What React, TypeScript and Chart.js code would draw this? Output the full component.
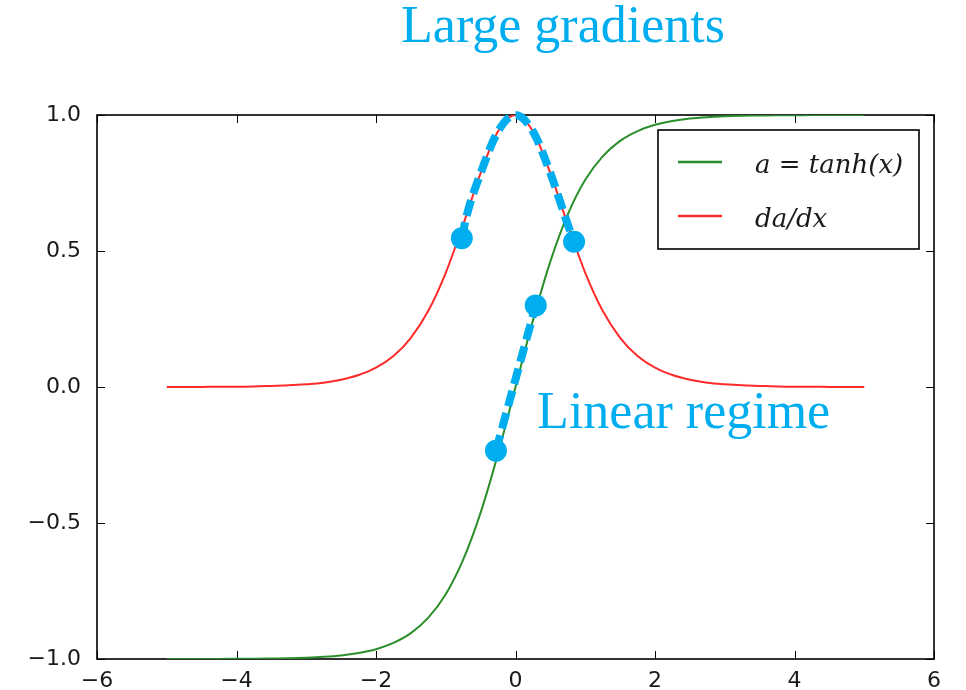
import { useEffect, useRef } from 'react';
import { Chart, registerables } from 'chart.js';

Chart.register(...registerables);

// ---- data ----
const xValues = [
  -5, -4.75, -4.5, -4.25, -4, -3.75, -3.5, -3.25, -3, -2.75, -2.5, -2.25, -2, -1.75, -1.5, -1.25, -1, -0.75, -0.5, -0.25,
  0, 0.25, 0.5, 0.75, 1, 1.25, 1.5, 1.75, 2, 2.25, 2.5, 2.75, 3, 3.25, 3.5, 3.75, 4, 4.25, 4.5, 4.75, 5,
];
const tanhValues = [
  -1.0, -1.0, -1.0, -1.0, -0.999, -0.999, -0.998, -0.997, -0.995, -0.992, -0.987, -0.978, -0.964, -0.941, -0.905, -0.848, -0.762, -0.635, -0.462, -0.245,
  0, 0.245, 0.462, 0.635, 0.762, 0.848, 0.905, 0.941, 0.964, 0.978, 0.987, 0.992, 0.995, 0.997, 0.998, 0.999, 0.999, 1.0, 1.0, 1.0, 1.0,
];
const derivValues = [
  0.0, 0.0, 0.0, 0.001, 0.001, 0.002, 0.004, 0.006, 0.01, 0.016, 0.027, 0.044, 0.071, 0.114, 0.181, 0.28, 0.42, 0.597, 0.786, 0.94,
  1.0, 0.94, 0.786, 0.597, 0.42, 0.28, 0.181, 0.114, 0.071, 0.044, 0.027, 0.016, 0.01, 0.006, 0.004, 0.002, 0.001, 0.001, 0.0, 0.0, 0.0,
];

// highlighted "large gradients" segment on da/dx
const gradX = [-0.77, -0.7, -0.5, -0.25, 0, 0.25, 0.5, 0.75, 0.84];
const gradY = [0.547, 0.63, 0.786, 0.94, 1.0, 0.94, 0.786, 0.597, 0.534];
const gradDotX = [-0.77, 0.84];
const gradDotY = [0.547, 0.534];

// highlighted "linear regime" segment on tanh
const linX = [-0.28, 0.29];
const linY = [-0.234, 0.3];

const seriesLabels = ['a = tanh(x)', 'da/dx'];
const titleText = 'Large gradients';
const annotationText = 'Linear regime';
const annotationPos = [0.31, -0.15];

const xTicks = [-6, -4, -2, 0, 2, 4, 6];
const yTicks = [-1.0, -0.5, 0.0, 0.5, 1.0];

const BLUE = '#00AEEF';
const GREEN = '#2a8f2a';
const RED = '#ff2a2a';

const zip = (xs: number[], ys: number[]) => xs.map((x, i) => ({ x, y: ys[i] }));

const framePlugin = {
  id: 'frame',
  beforeDatasetsDraw(chart: any) {
    const { ctx, chartArea } = chart;
    const { left, right, top, bottom } = chartArea;
    const xs = chart.scales.x;
    const ys = chart.scales.y;
    ctx.save();
    ctx.strokeStyle = '#000';
    ctx.lineWidth = 1;
    const tl = 8;
    ctx.beginPath();
    xTicks.forEach((v) => {
      const px = Math.round(xs.getPixelForValue(v)) + 0.5;
      ctx.moveTo(px, bottom);
      ctx.lineTo(px, bottom - tl);
      ctx.moveTo(px, top);
      ctx.lineTo(px, top + tl);
    });
    yTicks.forEach((v) => {
      const py = Math.round(ys.getPixelForValue(v)) + 0.5;
      ctx.moveTo(left, py);
      ctx.lineTo(left + tl, py);
      ctx.moveTo(right, py);
      ctx.lineTo(right - tl, py);
    });
    ctx.stroke();
    ctx.lineWidth = 1.6;
    ctx.strokeRect(left, top, right - left, bottom - top);
    ctx.restore();
  },
};

const overlayPlugin = {
  id: 'overlay',
  afterDraw(chart: any) {
    const { ctx, chartArea } = chart;
    const { right, top } = chartArea;
    const xs = chart.scales.x;
    const ys = chart.scales.y;
    ctx.save();

    // legend
    const bx = right - 276;
    const by = top + 15;
    const bw = 261;
    const bh = 119;
    ctx.fillStyle = '#fff';
    ctx.fillRect(bx, by, bw, bh);
    ctx.strokeStyle = '#000';
    ctx.lineWidth = 1.6;
    ctx.strokeRect(bx, by, bw, bh);
    const colors = [GREEN, RED];
    seriesLabels.forEach((lab, i) => {
      const ly = by + 32 + i * 54;
      ctx.strokeStyle = colors[i];
      ctx.lineWidth = 2.5;
      ctx.beginPath();
      ctx.moveTo(bx + 20, ly);
      ctx.lineTo(bx + 64, ly);
      ctx.stroke();
      ctx.fillStyle = '#1a1a1a';
      ctx.font = 'italic 26px "DejaVu Serif"';
      ctx.textAlign = 'left';
      ctx.textBaseline = 'alphabetic';
      ctx.fillText(lab, bx + 97, ly + 11);
    });

    // title
    ctx.fillStyle = BLUE;
    ctx.font = '52px "Liberation Serif"';
    ctx.textAlign = 'center';
    ctx.textBaseline = 'alphabetic';
    ctx.fillText(titleText, 563, 42);

    // annotation
    ctx.textAlign = 'left';
    ctx.fillText(annotationText, xs.getPixelForValue(annotationPos[0]), ys.getPixelForValue(annotationPos[1]));
    ctx.restore();
  },
};

export default function App() {
  const ref = useRef<HTMLCanvasElement>(null);
  useEffect(() => {
    document.body.style.margin = '0';
    const canvas = ref.current;
    if (!canvas) return;
    const dashStyle = {
      borderColor: BLUE,
      borderWidth: 8,
      borderDash: [16, 7],
      borderCapStyle: 'butt',
      pointRadius: 0,
      fill: false,
      clip: false,
      order: 1,
    };
    const chart = new Chart(canvas, {
      type: 'line',
      data: {
        datasets: [
          {
            label: seriesLabels[0],
            data: zip(xValues, tanhValues),
            borderColor: GREEN,
            borderWidth: 2,
            pointRadius: 0,
            cubicInterpolationMode: 'monotone',
            fill: false,
            order: 3,
          },
          {
            label: seriesLabels[1],
            data: zip(xValues, derivValues),
            borderColor: RED,
            borderWidth: 2,
            pointRadius: 0,
            cubicInterpolationMode: 'monotone',
            fill: false,
            order: 2,
          },
          {
            label: 'grad',
            data: zip(gradX, gradY),
            cubicInterpolationMode: 'monotone',
            ...dashStyle,
          } as any,
          {
            label: 'lin',
            data: zip(linX, linY),
            ...dashStyle,
          } as any,
          {
            label: 'gradDots',
            data: zip(gradDotX, gradDotY),
            showLine: false,
            pointRadius: 11,
            pointBackgroundColor: BLUE,
            pointBorderColor: BLUE,
            pointBorderWidth: 0,
            clip: false,
            order: 0,
          } as any,
          {
            label: 'linDots',
            data: zip(linX, linY),
            showLine: false,
            pointRadius: 11,
            pointBackgroundColor: BLUE,
            pointBorderColor: BLUE,
            pointBorderWidth: 0,
            clip: false,
            order: 0,
          } as any,
        ],
      },
      options: {
        responsive: false,
        animation: false,
        devicePixelRatio: 1,
        layout: { padding: { left: 0, top: 115, right: 32, bottom: 0 } },
        plugins: {
          legend: { display: false },
          tooltip: { enabled: false },
          title: { display: false },
        },
        scales: {
          x: {
            type: 'linear',
            min: -6,
            max: 6,
            grid: { display: false },
            border: { display: false },
            afterBuildTicks: (scale: any) => {
              scale.ticks = xTicks.map((v) => ({ value: v }));
            },
            afterFit: (scale: any) => {
              scale.height = 31;
            },
            ticks: {
              padding: 1,
              color: '#1a1a1a',
              font: { family: '"DejaVu Sans"', size: 22 },
              maxRotation: 0,
              autoSkip: false,
              callback: (v: any) => String(v).replace('-', '\u2212'),
            },
          },
          y: {
            type: 'linear',
            min: -1,
            max: 1,
            grid: { display: false },
            border: { display: false },
            afterBuildTicks: (scale: any) => {
              scale.ticks = yTicks.map((v) => ({ value: v }));
            },
            afterFit: (scale: any) => {
              scale.width = 97;
            },
            ticks: {
              padding: 8,
              color: '#1a1a1a',
              font: { family: '"DejaVu Sans"', size: 22 },
              autoSkip: false,
              callback: (v: any) => Number(v).toFixed(1).replace('-', '\u2212'),
            },
          },
        },
      },
      plugins: [framePlugin, overlayPlugin],
    } as any);
    return () => chart.destroy();
  }, []);
  return (
    <div style={{ width: 966, height: 690 }}>
      <canvas ref={ref} width={966} height={690} style={{ display: 'block' }} />
    </div>
  );
}
